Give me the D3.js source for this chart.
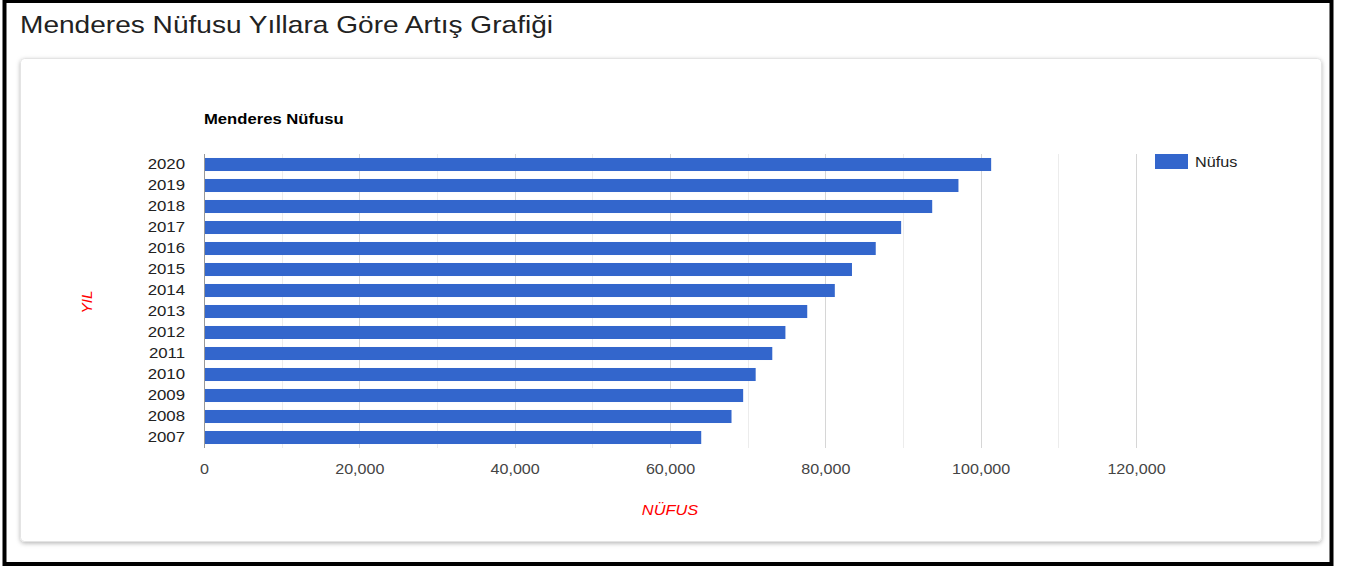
<!DOCTYPE html>
<html lang="tr">
<head>
<meta charset="utf-8">
<title>Menderes Nüfusu</title>
<script src="https://cdn.jsdelivr.net/npm/d3@7"></script>
<style>
    html, body { margin: 0; padding: 0; background: #fff; }
    svg { display: block; font-family: "Liberation Sans", Arial, sans-serif; }
</style>
</head>
<body>
<svg id="chart" width="1348" height="569"></svg>
<script>
const years = ["2020", "2019", "2018", "2017", "2016", "2015", "2014",
               "2013", "2012", "2011", "2010", "2009", "2008", "2007"];
const population = [101350, 97140, 93760, 89760, 86490, 83430, 81220,
                    77670, 74860, 73170, 71030, 69420, 67920, 64020];
const majorTicks = [0, 20000, 40000, 60000, 80000, 100000, 120000];
const minorTicks = [10000, 30000, 50000, 70000, 90000, 110000];

const pageTitle = "Menderes Nüfusu Yıllara Göre Artış Grafiği";
const chartTitle = "Menderes Nüfusu";
const seriesName = "Nüfus";
const xTitle = "NÜFUS";
const yTitle = "YIL";

const barColor = "#3366cc";
const fontFamily = "\"Liberation Sans\", Arial, sans-serif";

// the source picture is a little wider than plain Arial, so text gets a slight horizontal stretch
function stretched(sel, x, y, sx) {
    return sel.attr("transform", `translate(${x},${y}) scale(${sx},1)`);
}

const svg = d3.select("#chart");

const defs = svg.append("defs");
const shadow = defs.append("filter")
    .attr("id", "card-shadow")
    .attr("x", "-5%").attr("y", "-5%")
    .attr("width", "110%").attr("height", "115%");
shadow.append("feDropShadow")
    .attr("dx", 0).attr("dy", 1.5)
    .attr("stdDeviation", 2)
    .attr("flood-color", "#000")
    .attr("flood-opacity", 0.28);

// outer black frame
svg.append("rect")
    .attr("x", 4.5).attr("y", 1)
    .attr("width", 1327).attr("height", 563)
    .attr("fill", "none")
    .attr("stroke", "#000")
    .attr("stroke-width", 4);

stretched(svg.append("text"), 20, 33, 1.17)
    .attr("font-size", 24)
    .attr("fill", "#222")
    .text(pageTitle);

// card
svg.append("rect")
    .attr("x", 20.5).attr("y", 58.5)
    .attr("width", 1301).attr("height", 483)
    .attr("rx", 4)
    .attr("fill", "#fff")
    .attr("stroke", "#e4e4e4")
    .attr("filter", "url(#card-shadow)");

const plot = { left: 204, right: 1136, top: 154, bottom: 448 };

const x = d3.scaleLinear()
    .domain([0, 120000])
    .range([plot.left, plot.right]);

const y = d3.scaleBand()
    .domain(years)
    .range([plot.top, plot.bottom])
    .paddingInner(0.38)
    .paddingOuter(0.19);

const g = svg.append("g");

stretched(g.append("text"), 204, 124, 1.11)
    .attr("font-size", 15)
    .attr("font-weight", "bold")
    .attr("fill", "#000")
    .text(chartTitle);

g.append("g").selectAll("line")
    .data(minorTicks)
    .join("line")
    .attr("x1", d => Math.round(x(d)) + 0.5)
    .attr("x2", d => Math.round(x(d)) + 0.5)
    .attr("y1", plot.top)
    .attr("y2", plot.bottom)
    .attr("stroke", "#ececec");

g.append("g").selectAll("line")
    .data(majorTicks.slice(1))
    .join("line")
    .attr("x1", d => Math.round(x(d)) + 0.5)
    .attr("x2", d => Math.round(x(d)) + 0.5)
    .attr("y1", plot.top)
    .attr("y2", plot.bottom)
    .attr("stroke", "#d6d6d6");

g.append("g").selectAll("rect")
    .data(years)
    .join("rect")
    .attr("x", x(0))
    .attr("y", d => y(d))
    .attr("width", (d, i) => x(population[i]) - x(0))
    .attr("height", y.bandwidth())
    .attr("fill", barColor);

g.append("line")
    .attr("x1", x(0) + 0.5).attr("x2", x(0) + 0.5)
    .attr("y1", plot.top).attr("y2", plot.bottom)
    .attr("stroke", "#999");

const xAxis = g.append("g")
    .attr("transform", `translate(0,${plot.bottom})`)
    .call(d3.axisBottom(x)
        .tickValues(majorTicks)
        .tickFormat(d3.format(","))
        .tickSize(0)
        .tickPadding(16));
xAxis.select(".domain").remove();
xAxis.selectAll("text")
    .attr("font-family", fontFamily)
    .attr("font-size", 14)
    .attr("fill", "#444")
    .attr("transform", "scale(1.15,1)");

const ySx = 1.12;
const yAxis = g.append("g")
    .attr("transform", `translate(${plot.left},0)`)
    .call(d3.axisLeft(y).tickSize(0).tickPadding(19));
yAxis.select(".domain").remove();
yAxis.selectAll("text")
    .attr("font-family", fontFamily)
    .attr("font-size", 15)
    .attr("fill", "#222")
    .attr("x", -19 / ySx)
    .attr("transform", `scale(${ySx},1)`);

stretched(g.append("text"), 670, 515, 1.17)
    .attr("text-anchor", "middle")
    .attr("font-size", 14)
    .attr("font-style", "italic")
    .attr("fill", "#ff0000")
    .text(xTitle);

g.append("text")
    .attr("transform", "translate(92,302) rotate(-90) scale(1.1,1)")
    .attr("text-anchor", "middle")
    .attr("font-size", 14)
    .attr("font-style", "italic")
    .attr("fill", "#ff0000")
    .text(yTitle);

const legend = g.append("g")
    .attr("transform", "translate(1155,154)");
legend.append("rect")
    .attr("width", 33).attr("height", 15)
    .attr("fill", barColor);
stretched(legend.append("text"), 40, 13, 1.08)
    .attr("font-size", 15)
    .attr("fill", "#222")
    .text(seriesName);
</script>
</body>
</html>
